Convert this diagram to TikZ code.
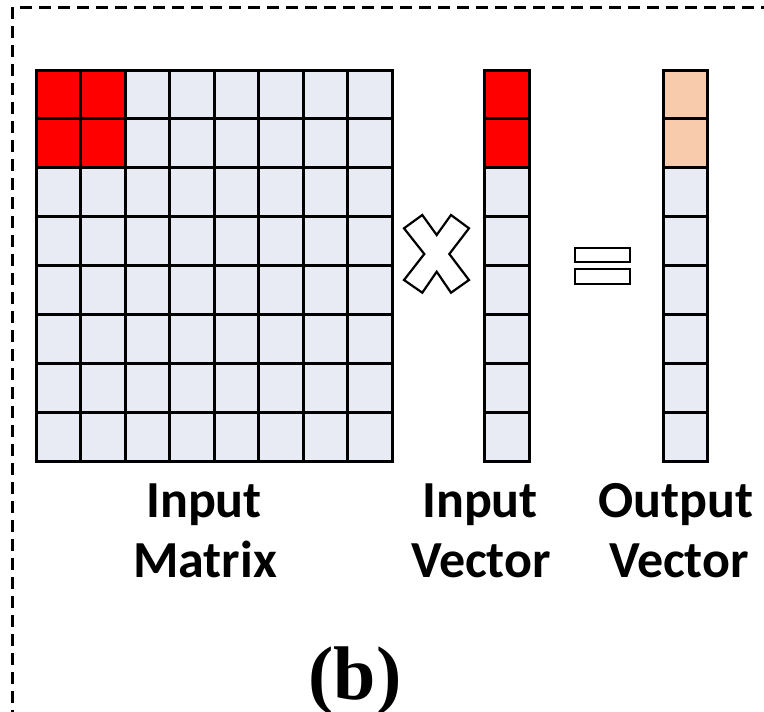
\documentclass[tikz,border=0pt]{standalone}
\usepackage{fontspec}
\setmainfont{Carlito}
\newfontfamily\capserif{Liberation Serif}
\definecolor{cellgray}{HTML}{E8EAF4}
\definecolor{hotred}{HTML}{FF0000}
\definecolor{peach}{HTML}{F8CBAD}
\begin{document}
\begin{tikzpicture}[x=1pt,y=-1pt,
  frame/.style={line width=3pt,dash pattern=on 12pt off 7pt},
  cellbox/.style={draw=black,line width=3pt,fill=cellgray},
  sign/.style={draw=black,line width=2.2pt,fill=white,line join=miter},
  lbl/.style={inner sep=0pt,anchor=base,font=\fontsize{52}{60}\selectfont\bfseries},
  caption/.style={inner sep=0pt,anchor=base,font=\capserif\fontsize{76}{80}\selectfont\bfseries}]
\useasboundingbox (0,0) rectangle (764,712);

% dashed frame (continues past the right and bottom edges)
\begin{scope}
  \clip (0,0) rectangle (764,712);
  \draw[frame] (12.5,7) -- (12.5,730);
  \draw[frame] (20,7) -- (780,7);
\end{scope}

\def\cw{44.5}
\def\ch{48.875}

% input matrix 8x8, top-left 2x2 block highlighted
\foreach \i in {0,...,7}{
  \foreach \j in {0,...,7}{
    \pgfmathsetmacro{\hl}{(\i<2 && \j<2) ? 1 : 0}
    \ifdim\hl pt>0.5pt
      \filldraw[cellbox,fill=hotred] ({36+\i*\cw},{70+\j*\ch}) rectangle ++(\cw,\ch);
    \else
      \filldraw[cellbox] ({36+\i*\cw},{70+\j*\ch}) rectangle ++(\cw,\ch);
    \fi
  }
}

% input vector
\foreach \j in {0,...,7}{
  \pgfmathsetmacro{\hl}{(\j<2) ? 1 : 0}
  \ifdim\hl pt>0.5pt
    \filldraw[cellbox,fill=hotred] (484,{70+\j*\ch}) rectangle ++(45,\ch);
  \else
    \filldraw[cellbox] (484,{70+\j*\ch}) rectangle ++(45,\ch);
  \fi
}

% output vector
\foreach \j in {0,...,7}{
  \pgfmathsetmacro{\hl}{(\j<2) ? 1 : 0}
  \ifdim\hl pt>0.5pt
    \filldraw[cellbox,fill=peach] (663,{70+\j*\ch}) rectangle ++(44.5,\ch);
  \else
    \filldraw[cellbox] (663,{70+\j*\ch}) rectangle ++(44.5,\ch);
  \fi
}

% multiplication sign
\draw[sign] (422.3,215) -- (436.7,235) -- (451,215) -- (469,228.3) -- (449.3,254)
  -- (469,280) -- (451,292.7) -- (436.7,271.7) -- (422.3,292.7) -- (404,280)
  -- (424.3,254) -- (404,228.3) -- cycle;

% equals sign
\draw[sign] (575,247.7) rectangle (630,262.3);
\draw[sign] (575,269.3) rectangle (630,284);

% labels
\node[lbl] (imA) at (204,517) {Input};
\node[lbl] (imB) at (205,577) {Matrix};
\node[lbl] (ivA) at (480,517) {Input};
\node[lbl] (ivB) at (481,577) {Vector};
\node[lbl] (ovA) at (676,517) {Output};
\node[lbl] (ovB) at (679,577) {Vector};
\node[caption] (cap) at (355,699) {(b)};
\end{tikzpicture}
\end{document}
